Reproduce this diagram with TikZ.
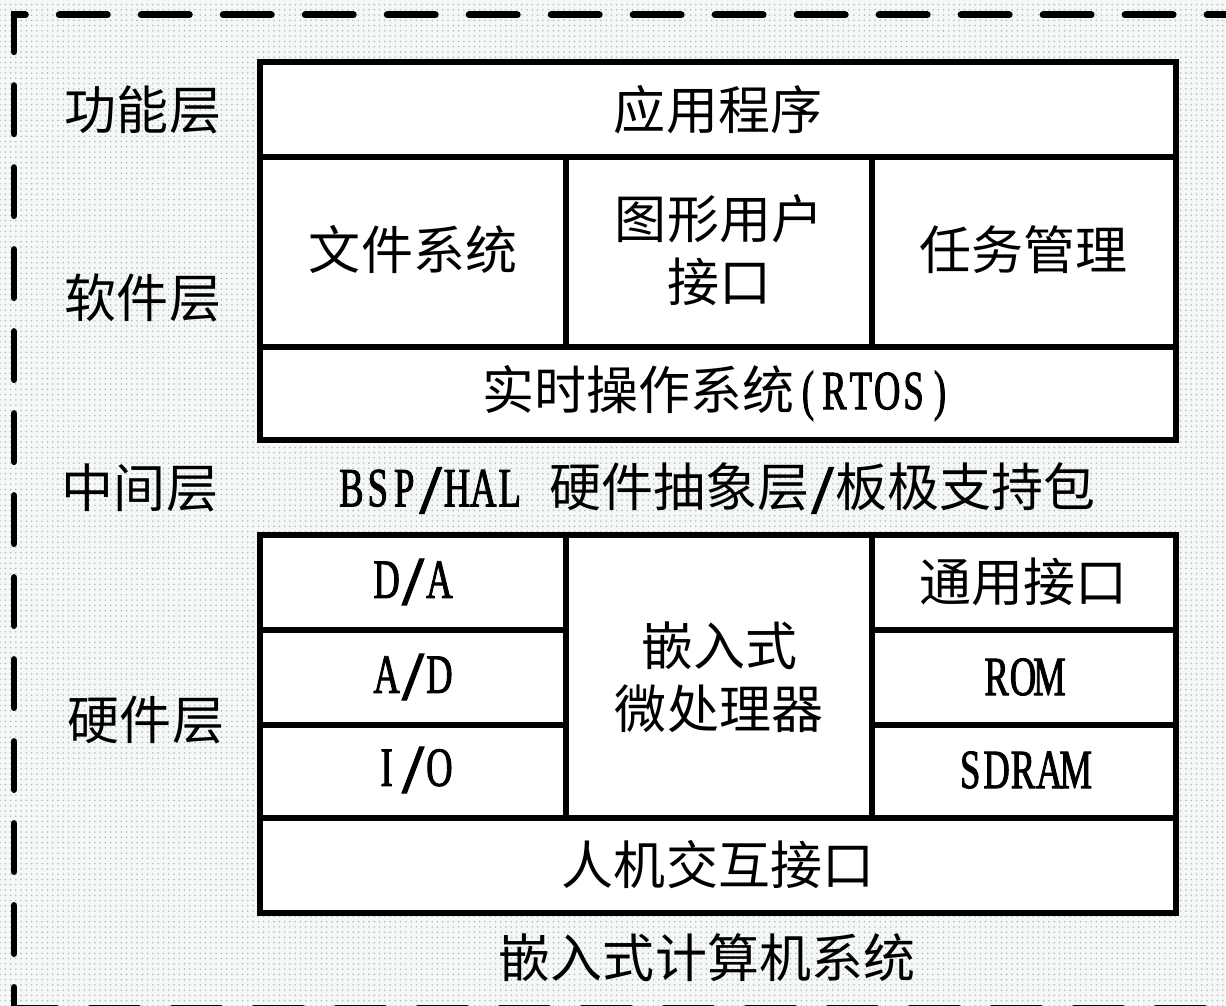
\documentclass[tikz,border=0pt]{standalone}
\usepackage{fontspec}
\usepackage{graphicx}
\setmainfont{Noto Sans CJK SC}
\newfontfamily\latfont[FakeStretch=0.66,FakeBold=1.6]{Liberation Serif}
\def\hwslash{/}
\def\hwchar#1{\def\hwtmp{#1}\ifx\hwtmp\hwslash\makebox[0.528cm]{\raisebox{-0.12em}{\scalebox{2.1}[1.25]{/}}}\else\makebox[0.528cm]{#1}\fi}
\def\hwloop#1{\ifx#1\relax\else\hwchar{#1}\expandafter\hwloop\fi}
\newcommand\la[1]{{\latfont\fontsize{31.5}{31.5}\selectfont\hwloop#1\relax}}
\usetikzlibrary{patterns}
\definecolor{bgc}{RGB}{245,248,248}
\tikzset{
  box/.style={draw=black, fill=white, line width=0.12cm, line join=miter},
  txt/.style={font=\fontsize{29.6}{36}\selectfont, inner sep=0pt, align=center, text=black},
  frame/.style={draw=black, line width=0.14cm, line cap=round, dash pattern=on 0.96cm off 0.68cm}
}
\begin{document}
\begin{tikzpicture}[x=0.02cm, y=-0.02cm]
\useasboundingbox (0,0) rectangle (1226,1006);
\fill[bgc] (0,0) rectangle (1226,1006);
\fill[pattern=dots, pattern color=black!28] (0,0) rectangle (1226,1006);
\begin{scope}
\clip (0,0) rectangle (1226,1006);
\coordinate (bl) at (14,1008);
\coordinate (tl) at (14,15);
\coordinate (tr) at (1232,15);
\coordinate (br) at (1232,1008);
\draw[frame, dash phase=0.55cm] (bl) -- (tl) -- (tr);
\draw[frame, dash phase=0.11cm] (bl) -- (br);
\end{scope}
% software block
\draw[box] (260,62) rectangle (1176,157);
\draw[box] (260,157) rectangle (566,347);
\draw[box] (566,157) rectangle (872,347);
\draw[box] (872,157) rectangle (1176,347);
\draw[box] (260,347) rectangle (1176,440);
% hardware block
\draw[box] (260,535) rectangle (566,630);
\draw[box] (260,630) rectangle (566,725);
\draw[box] (260,725) rectangle (566,818);
\draw[box] (566,535) rectangle (872,818);
\draw[box] (872,535) rectangle (1176,630);
\draw[box] (872,630) rectangle (1176,725);
\draw[box] (872,725) rectangle (1176,818);
\draw[box] (260,818) rectangle (1176,913);
% layer labels
\node[txt] (l1) at (143,110) {功能层};
\node[txt] (l2) at (143,298) {软件层};
\node[txt] (l3) at (140,488) {中间层};
\node[txt] (l4) at (146,720) {硬件层};
% cells
\node[txt] (app) at (718,110) {应用程序};
\node[txt] (fs) at (413,250) {文件系统};
\node[txt] (gui) at (719,250) {图形用户\\接口};
\node[txt] (task) at (1023,250) {任务管理};
\node[txt] (rtos) at (718,393) {实时操作系统\la{(RTOS)}};
\node[txt] (bsp) at (717,488) {\la{BSP/HAL}\hspace{0.528cm}硬件抽象层\la{/}板极支持包};
\node[txt] (da) at (413,582) {\la{D/A}};
\node[txt] (ad) at (413,677) {\la{A/D}};
\node[txt] (io) at (413,770) {\la{I/O}};
\node[txt] (cpu) at (719,677) {嵌入式\\微处理器};
\node[txt] (gen) at (1023,582) {通用接口};
\node[txt] (rom) at (1023,677) {\la{ROM}};
\node[txt] (sdram) at (1023,770) {\la{SDRAM}};
\node[txt] (hmi) at (718,865) {人机交互接口};
\node[txt] (sys) at (707,958) {嵌入式计算机系统};
\end{tikzpicture}
\end{document}
